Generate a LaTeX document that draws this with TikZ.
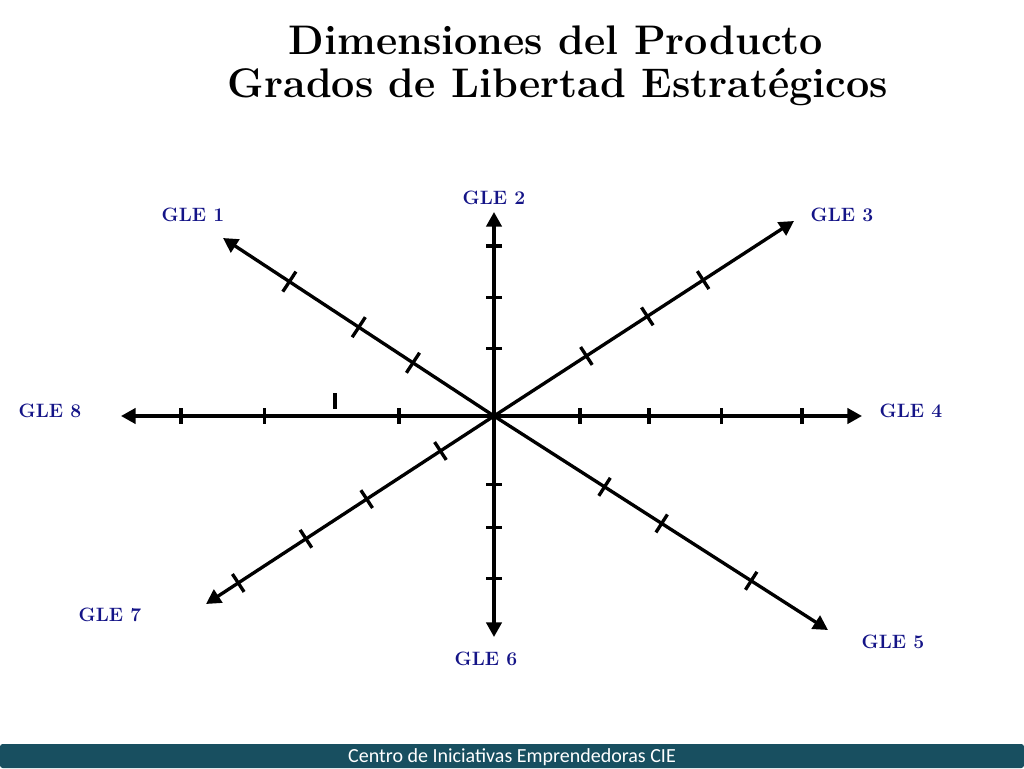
\documentclass[tikz,border=0pt]{standalone}
\usepackage{fontspec}
\newfontfamily\footfont{Carlito}
\usepackage{tikz}
\usetikzlibrary{arrows.meta}
\usetikzlibrary{calc}

\definecolor{gleblue}{RGB}{20,20,135}
\definecolor{barteal}{RGB}{24,79,96}

\begin{document}
\begin{tikzpicture}[x=0.75pt,y=0.75pt,yscale=-1,
    axis/.style={line width=2.5pt,-{Triangle[length=11pt,width=11.5pt]}},
    tickline/.style={line width=2.5pt},
    gle/.style={text=gleblue,font=\fontsize{14.5}{17}\selectfont\bfseries,inner sep=0pt,anchor=base},
    titletext/.style={font=\fontsize{31}{36}\selectfont\bfseries,inner sep=0pt,anchor=base}]
\useasboundingbox (0,0) rectangle (1024,768);

% Title
\node [titletext] (title1) at (556,54) {Dimensiones del Producto};
\node [titletext] (title2) at (558,97) {Grados de Libertad Estratégicos};

% Centre and axis ends
\coordinate (O) at (494,416);
\coordinate (g1) at (223,238);
\coordinate (g2) at (494,212);
\coordinate (g3) at (794,221);
\coordinate (g4) at (862,416);
\coordinate (g5) at (828,630);
\coordinate (g6) at (494,637);
\coordinate (g7) at (206,604);
\coordinate (g8) at (121,416);

% Axes
\foreach \tip in {g1,g2,g3,g4,g5,g6,g7,g8}
  \draw [axis] (O) -- (\tip);

% Tick marks
\foreach \tip/\half/\list in {g1/9pt/{0.299,0.499,0.755}, g2/6pt/{0.33,0.582,0.833},
    g3/8pt/{0.308,0.511,0.697}, g4/6pt/{0.234,0.421,0.619,0.837},
    g5/8pt/{0.331,0.502,0.770}, g6/6pt/{0.311,0.503,0.734},
    g7/8pt/{0.186,0.442,0.653,0.888}, g8/6pt/{0.255,0.616,0.839}}
  \foreach \p in \list {
    \coordinate (m) at ($(O)!\p!(\tip)$);
    \draw [tickline] ($(m)!\half!90:(\tip)$) -- ($(m)!\half!-90:(\tip)$);
  }
% loose tick above GLE 8
\draw [tickline] (335,393) -- (335,409);

% Labels
\node [gle] (l1) at (193,221) {GLE 1};
\node [gle] (l2) at (494,204) {GLE 2};
\node [gle] (l3) at (842,221) {GLE 3};
\node [gle] (l4) at (911,417) {GLE 4};
\node [gle] (l5) at (893,648) {GLE 5};
\node [gle] (l6) at (486,665) {GLE 6};
\node [gle] (l7) at (110,621) {GLE 7};
\node [gle] (l8) at (50,417) {GLE 8};

% Footer
\fill [barteal, rounded corners=2pt] (0,768) -- (0,744) -- (1024,744) -- (1024,768) -- cycle;
\node [text=white, font=\footfont\fontsize{15}{18}\selectfont, inner sep=0pt, anchor=base] (footer) at (512,762) {Centro de Iniciativas Emprendedoras CIE};
\end{tikzpicture}
\end{document}
